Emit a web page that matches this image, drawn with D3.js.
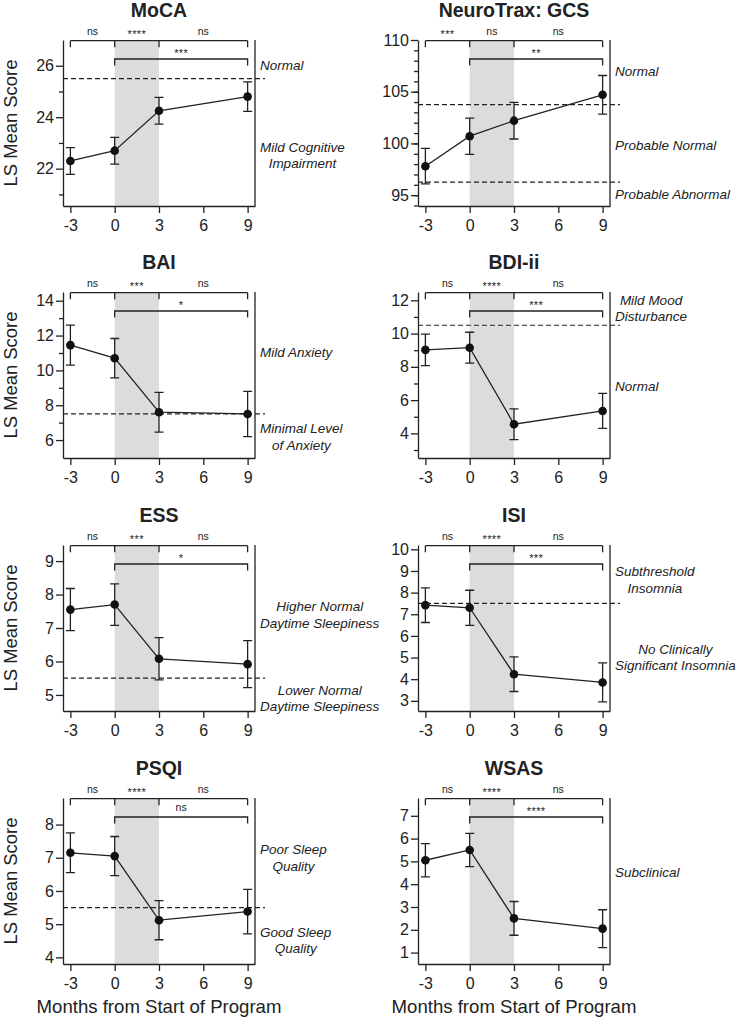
<!DOCTYPE html>
<html><head><meta charset="utf-8">
<script src="https://cdn.jsdelivr.net/npm/d3@7"></script>
<style>
body{margin:0;background:#fff;}
svg{display:block;font-family:"Liberation Sans",Arial,Helvetica,sans-serif;}
</style></head><body>
<svg id="chart" width="735" height="1018"></svg>
<script>
// ---------------- data ----------------
const months = [-3, 0, 3, 9];
const xTickValues = [-3, 0, 3, 6, 9];
const monthDomain = [-3.5, 9.5];
const shadeMonths = [0, 3];
const titles = ["MoCA", "NeuroTrax: GCS", "BAI", "BDI-ii", "ESS", "ISI", "PSQI", "WSAS"];

const mocaMean  = [22.3, 22.7, 24.25, 24.8];
const mocaErr   = [0.52, 0.52, 0.52, 0.57];
const gcsMean   = [97.8, 100.7, 102.2, 104.7];
const gcsErr    = [1.72, 1.75, 1.77, 1.87];
const baiMean   = [11.45, 10.7, 7.6, 7.5];
const baiErr    = [1.15, 1.13, 1.14, 1.3];
const bdiMean   = [9.02, 9.15, 4.55, 5.35];
const bdiErr    = [0.95, 0.93, 0.92, 1.05];
const essMean   = [7.55, 7.7, 6.08, 5.92];
const essErr    = [0.63, 0.62, 0.63, 0.7];
const isiMean   = [7.42, 7.3, 4.23, 3.85];
const isiErr    = [0.8, 0.81, 0.8, 0.9];
const psqiMean  = [7.15, 7.05, 5.12, 5.38];
const psqiErr   = [0.6, 0.59, 0.59, 0.67];
const wsasMean  = [5.05, 5.5, 2.5, 2.05];
const wsasErr   = [0.73, 0.73, 0.74, 0.83];

const means = [mocaMean, gcsMean, baiMean, bdiMean, essMean, isiMean, psqiMean, wsasMean];
const errs  = [mocaErr, gcsErr, baiErr, bdiErr, essErr, isiErr, psqiErr, wsasErr];

const yDomains = [[20.55, 27], [93.95, 110], [4.97, 14.5], [2.52, 12.5],
                  [4.52, 9.48], [2.53, 10.2], [3.8, 8.8], [0.5, 7.78]];
const yMajorTicks = [[22, 24, 26], [95, 100, 105, 110], [6, 8, 10, 12, 14], [4, 6, 8, 10, 12],
                     [5, 6, 7, 8, 9], [3, 4, 5, 6, 7, 8, 9, 10], [4, 5, 6, 7, 8], [1, 2, 3, 4, 5, 6, 7]];
const yMinorTicks = [[21, 23, 25], d3.range(94, 110), [7, 9, 11, 13], [3, 5, 7, 9, 11], [], [], [], []];
const thresholds = [[25.5], [103.75, 96.25], [7.5], [10.5], [5.5], [7.5], [5.5], []];

const zoneLabels = [
  [{lines: ["Normal"], at: 26.0}, {lines: ["Mild Cognitive", "Impairment"], at: 22.52}],
  [{lines: ["Normal"], at: 107.0}, {lines: ["Probable Normal"], at: 99.8}, {lines: ["Probable Abnormal"], at: 95.05}],
  [{lines: ["Mild Anxiety"], at: 11.02}, {lines: ["Minimal Level", "of Anxiety"], at: 6.18}],
  [{lines: ["Mild Mood", "Disturbance"], at: 11.52}, {lines: ["Normal"], at: 6.82}],
  [{lines: ["Higher Normal", "Daytime Sleepiness"], at: 7.4}, {lines: ["Lower Normal", "Daytime Sleepiness"], at: 4.9}],
  [{lines: ["Subthreshold", "Insomnia"], at: 8.6}, {lines: ["No Clinically", "Significant Insomnia"], at: 5.0}],
  [{lines: ["Poor Sleep", "Quality"], at: 7.0}, {lines: ["Good Sleep", "Quality"], at: 4.51}],
  [{lines: ["Subclinical"], at: 4.52}]
];

const stepSig = [["ns", "****", "ns"], ["***", "ns", "ns"], ["ns", "***", "ns"], ["ns", "****", "ns"],
                 ["ns", "***", "ns"], ["ns", "****", "ns"], ["ns", "****", "ns"], ["ns", "****", "ns"]];
const longSig = ["***", "**", "*", "***", "*", "***", "ns", "****"];

const yAxisTitle = "LS Mean Score";
const xAxisTitle = "Months from Start of Program";

// ---------------- layout ----------------
const colLeft = [63, 418];
const rowTop = [40, 292, 545, 798];
const plotW = 192, plotH = 166;
const ink = "#222";

const svg = d3.select("#chart");

titles.forEach((title, i) => {
  const col = i % 2, row = Math.floor(i / 2);
  const g = svg.append("g").attr("transform", `translate(${colLeft[col]},${rowTop[row]})`);
  const x = d3.scaleLinear().domain(monthDomain).range([0, plotW]);
  const y = d3.scaleLinear().domain(yDomains[i]).range([plotH, 0]);

  // shaded program window
  g.append("rect")
    .attr("x", x(shadeMonths[0])).attr("y", 0)
    .attr("width", x(shadeMonths[1]) - x(shadeMonths[0])).attr("height", plotH)
    .attr("fill", "#dcdcdf");

  // threshold dashed lines
  g.selectAll(".thr").data(thresholds[i]).join("line")
    .attr("x1", 0).attr("x2", plotW + 10)
    .attr("y1", d => y(d)).attr("y2", d => y(d))
    .attr("stroke", ink).attr("stroke-width", 1.2).attr("stroke-dasharray", "5,3");

  // axes
  g.append("g").call(d3.axisLeft(y).tickValues(yMinorTicks[i]).tickSize(4).tickFormat("").tickSizeOuter(0))
    .call(a => a.select(".domain").remove());
  const ya = g.append("g").call(d3.axisLeft(y).tickValues(yMajorTicks[i]).tickSize(7).tickPadding(2)
      .tickSizeOuter(0).tickFormat(d => String(d)));
  const xa = g.append("g").attr("transform", `translate(0,${plotH})`)
    .call(d3.axisBottom(x).tickValues(xTickValues).tickSize(7).tickPadding(7)
      .tickSizeOuter(0).tickFormat(d => String(d)));
  g.selectAll(".tick line, .domain").attr("stroke", ink).attr("stroke-width", 1.3);
  [ya, xa].forEach(a => a.selectAll("text").attr("font-size", 16).attr("fill", ink)
    .attr("font-family", '"Liberation Sans",Arial,sans-serif'));

  // right frame line
  g.append("line").attr("x1", plotW).attr("x2", plotW).attr("y1", 0).attr("y2", plotH)
    .attr("stroke", ink).attr("stroke-width", 1.3);

  // significance brackets
  const b1 = 0.7, b2 = 19, drop = 6.5;
  const bk = g.append("g").attr("stroke", ink).attr("stroke-width", 1.3).attr("fill", "none");
  bk.append("path").attr("d",
    `M${x(months[0])},${b1}H${x(months[months.length - 1])}` +
    months.map(m => `M${x(m)},${b1}V${b1 + drop}`).join(""));
  bk.append("path").attr("d",
    `M${x(months[1])},${b2 + drop}V${b2}H${x(months[3])}V${b2 + drop}`);

  const sigText = (txt, cx, by) => {
    const stars = txt !== "ns";
    g.append("text").attr("x", cx).attr("y", stars ? by - 2.5 : by - 6)
      .attr("text-anchor", "middle").attr("fill", ink)
      .attr("font-size", stars ? 11 : 10.5).attr("letter-spacing", stars ? 0.4 : 0)
      .text(txt);
  };
  stepSig[i].forEach((s, k) => sigText(s, (x(months[k]) + x(months[k + 1])) / 2, b1));
  sigText(longSig[i], (x(months[1]) + x(months[3])) / 2, b2);

  // connecting line
  const pts = months.map((m, k) => [m, means[i][k], errs[i][k]]);
  g.append("path").datum(pts)
    .attr("d", d3.line().x(d => x(d[0])).y(d => y(d[1])))
    .attr("fill", "none").attr("stroke", ink).attr("stroke-width", 1.3);

  // error bars
  const eb = g.append("g").attr("stroke", ink).attr("stroke-width", 1.3).attr("fill", "none");
  pts.forEach(d => {
    const cx = x(d[0]), lo = y(d[1] - d[2]), hi = y(d[1] + d[2]);
    eb.append("path").attr("d", `M${cx},${lo}V${hi}M${cx - 4.5},${hi}H${cx + 4.5}M${cx - 4.5},${lo}H${cx + 4.5}`);
  });

  // markers
  g.selectAll(".pt").data(pts).join("circle")
    .attr("cx", d => x(d[0])).attr("cy", d => y(d[1])).attr("r", 4.3).attr("fill", "#111");

  // title
  g.append("text").attr("x", plotW / 2).attr("y", -22.8).attr("text-anchor", "middle")
    .attr("font-size", 19.5).attr("font-weight", "bold").attr("fill", ink).text(title);

  // zone labels
  zoneLabels[i].forEach(z => {
    const t = g.append("text").attr("font-size", 13.5).attr("font-style", "italic")
      .attr("fill", ink).attr("text-anchor", "middle");
    const n = z.lines.length, lh = 16.5;
    const spans = z.lines.map((ln, k) => t.append("tspan")
      .attr("y", y(z.at) + (k - (n - 1) / 2) * lh + 4.7).text(ln));
    const maxW = d3.max(spans, s => s.node().getComputedTextLength());
    spans.forEach(s => s.attr("x", plotW + 5 + maxW / 2));
  });

  // axis titles
  if (col === 0) {
    svg.append("text")
      .attr("transform", `translate(17,${rowTop[row] + plotH / 2}) rotate(-90)`)
      .attr("text-anchor", "middle").attr("font-size", 18.4).attr("fill", ink).text(yAxisTitle);
  }
  if (row === 3) {
    g.append("text").attr("x", plotW / 2).attr("y", plotH + 48.5).attr("text-anchor", "middle")
      .attr("font-size", 18.6).attr("fill", ink).text(xAxisTitle);
  }
});
</script>
</body></html>
